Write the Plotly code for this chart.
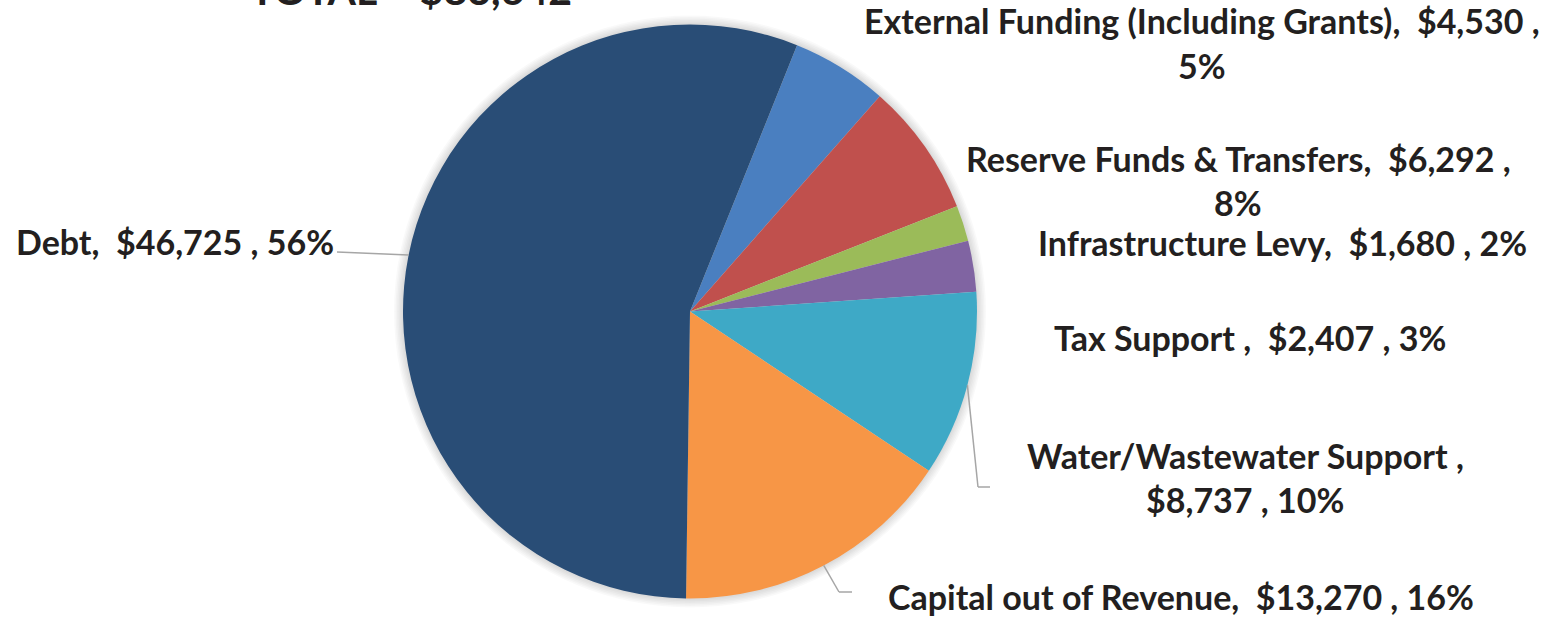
import math

import plotly.graph_objects as go

# Data
categories = [
    "External Funding (Including Grants)",
    "Reserve Funds & Transfers",
    "Infrastructure Levy",
    "Tax Support ",
    "Water/Wastewater Support ",
    "Capital out of Revenue",
    "Debt",
]
values = [4530, 6292, 1680, 2407, 8737, 13270, 46725]
colors = ["#4A7FC0", "#C0504D", "#9BBB59", "#8064A2", "#3EA9C6", "#F79646", "#294D76"]
title_text = "TOTAL = $83,642"

# where each label wraps: after the value, after the name, or not at all
label_breaks = ["value", "value", None, None, "name", None, None]

W, H = 1559, 627
CX, CY, R = 690, 311.5, 287
ROTATION = 21.9
FONT = "Lato"
FONT_SIZE = 34
TEXT_COLOR = "#231F20"
LINE_COLOR = "#A6A6A6"

# label placement (pixel centre x, first baseline y)
label_x = [1202, 1238, 1282, 1250, 1245, 1181, 175]
label_y = [31, 168, 252, 347, 465, 606, 251]
line_gap = 44

# leader line elbows (pixels) for labels that have one
leader_points = {
    4: [(978, 487), (990, 487)],
    5: [(839, 592), (852, 592)],
    6: [(337, 252)],
}


def px(x):
    return x / W


def py(y):
    return 1 - y / H


total = sum(values)
fig = go.Figure(
    go.Pie(
        labels=categories,
        values=values,
        marker={"colors": colors, "line": {"width": 0}},
        sort=False,
        direction="clockwise",
        rotation=ROTATION,
        textinfo="none",
        hoverinfo="skip",
        showlegend=False,
        domain={"x": [px(CX - R), px(CX + R)], "y": [py(CY + R), py(CY - R)]},
    )
)

annotations = []
nb = "\u00a0"
for i, (cat, val) in enumerate(zip(categories, values)):
    pct = round(val / total * 100)
    if label_breaks[i] == "value":
        lines = [f"{cat},{nb} ${val:,} ,", f"{pct}%"]
    elif label_breaks[i] == "name":
        lines = [f"{cat},", f"${val:,} , {pct}%"]
    else:
        lines = [f"{cat},{nb} ${val:,} , {pct}%"]
    for j, line in enumerate(lines):
        annotations.append({
            "text": f"<b>{line}</b>",
            "x": px(label_x[i]),
            "y": py(label_y[i] + j * line_gap - 10),
            "xref": "paper",
            "yref": "paper",
            "xanchor": "center",
            "yanchor": "middle",
            "showarrow": False,
            "font": {"family": FONT, "size": FONT_SIZE, "color": TEXT_COLOR},
        })

# the title sits mostly above the top edge, as in the source image
annotations.append({
    "text": f"<b>{title_text}</b>",
    "x": px(411),
    "y": py(-10),
    "xref": "paper",
    "yref": "paper",
    "xanchor": "center",
    "yanchor": "middle",
    "showarrow": False,
    "font": {"family": FONT, "size": 41, "color": TEXT_COLOR},
})

shapes = []
# soft shadow around the pie
for k in range(1, 7):
    r = R + k * 1.5
    shapes.append({
        "type": "circle",
        "xref": "paper",
        "yref": "paper",
        "x0": px(CX - r),
        "x1": px(CX + r),
        "y0": py(CY + r),
        "y1": py(CY - r),
        "fillcolor": "rgba(0,0,0,0.025)",
        "line": {"width": 0},
        "layer": "below",
    })

# leader lines from slice mid-angle on the edge
cum = 0
for i, val in enumerate(values):
    mid = math.radians(ROTATION + (cum + val / 2) / total * 360)
    cum += val
    if i not in leader_points:
        continue
    pts = [(CX + R * math.sin(mid), CY - R * math.cos(mid))] + leader_points[i]
    for (x0, y0), (x1, y1) in zip(pts[:-1], pts[1:]):
        shapes.append({
            "type": "line",
            "xref": "paper",
            "yref": "paper",
            "x0": px(x0),
            "y0": py(y0),
            "x1": px(x1),
            "y1": py(y1),
            "line": {"color": LINE_COLOR, "width": 1.5},
        })

fig.update_layout(
    width=W,
    height=H,
    margin={"l": 0, "r": 0, "t": 0, "b": 0},
    paper_bgcolor="white",
    plot_bgcolor="white",
    annotations=annotations,
    shapes=shapes,
)

# drop the default page margin so the figure fills the window exactly
fig.write_html(
    "out.html",
    config={"displayModeBar": False},
    post_script="document.body.style.margin = '0';",
)
